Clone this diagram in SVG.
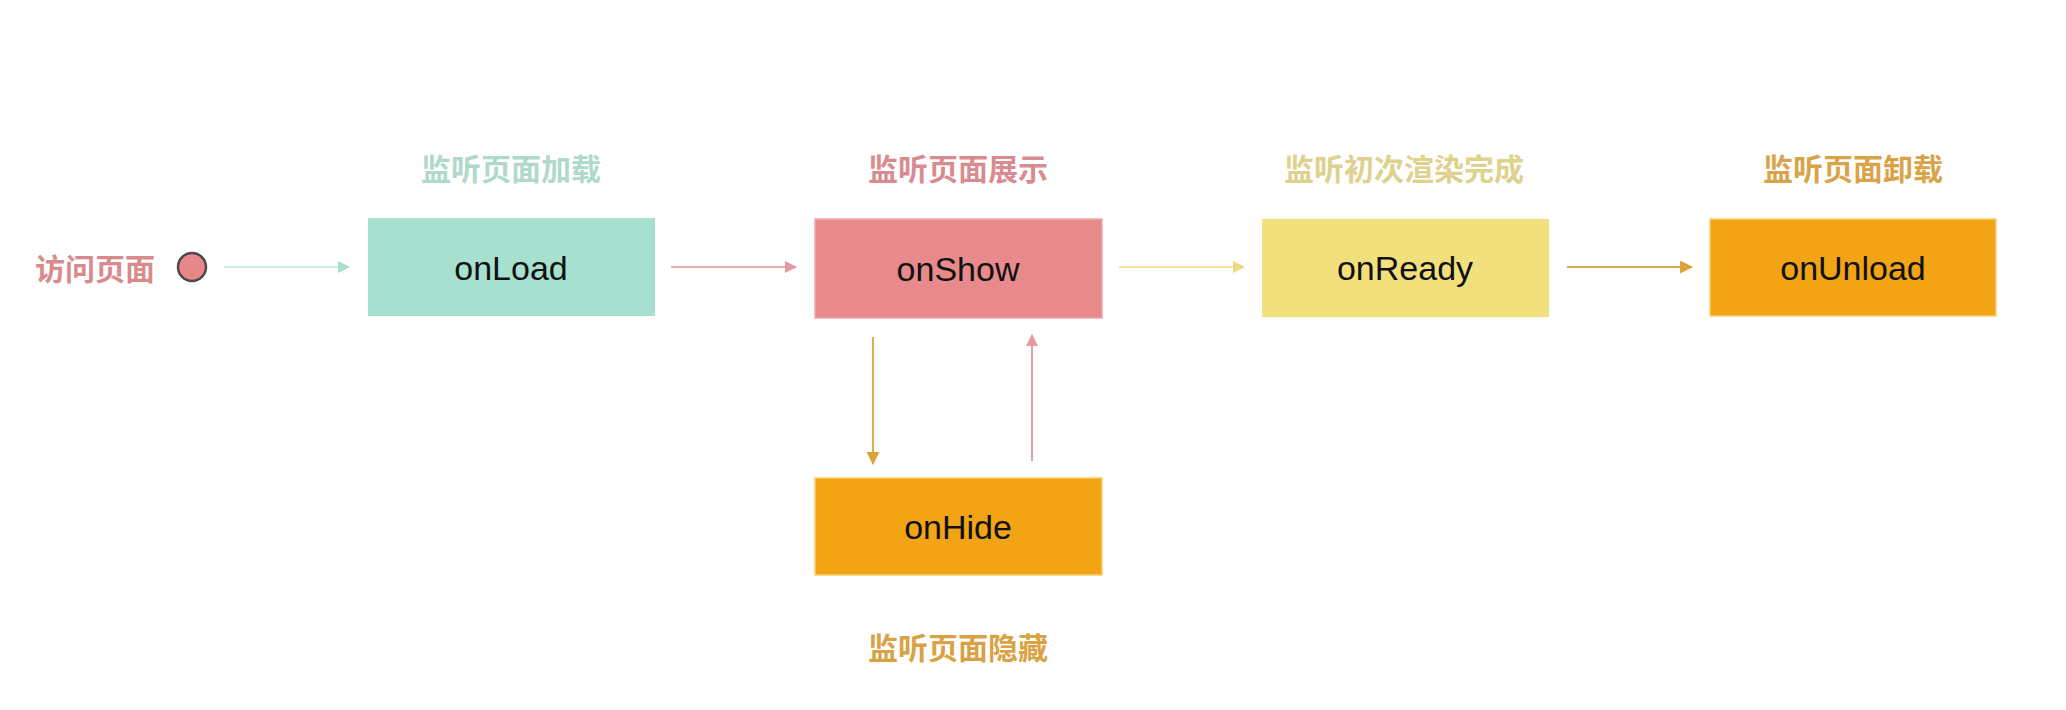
<svg xmlns="http://www.w3.org/2000/svg" width="2066" height="710" viewBox="0 0 2066 710">
<style>
.name{font-family:"Liberation Sans",Arial,sans-serif;font-size:34px;fill:#111;text-anchor:middle;dominant-baseline:central}
.lbl{font-family:"Noto Sans CJK SC","Noto Sans",sans-serif;font-size:30px;text-anchor:middle;dominant-baseline:central;font-weight:bold}
.conn line{stroke-width:2}
</style>
<defs>
<marker id="mTeal" viewBox="0 0 12 12" refX="11" refY="6" markerWidth="12" markerHeight="12" markerUnits="userSpaceOnUse" orient="auto"><path d="M0,0 L12,6 L0,12 Z" fill="#a9dfcf"/></marker>
<marker id="mPink" viewBox="0 0 12 12" refX="11" refY="6" markerWidth="12" markerHeight="12" markerUnits="userSpaceOnUse" orient="auto"><path d="M0,0 L12,6 L0,12 Z" fill="#e39aa0"/></marker>
<marker id="mYellow" viewBox="0 0 12 12" refX="11" refY="6" markerWidth="12" markerHeight="12" markerUnits="userSpaceOnUse" orient="auto"><path d="M0,0 L12,6 L0,12 Z" fill="#eedb7e"/></marker>
<marker id="mGold" viewBox="0 0 12 12" refX="11" refY="6" markerWidth="13" markerHeight="13" markerUnits="userSpaceOnUse" orient="auto"><path d="M0,0 L12,6 L0,12 Z" fill="#dba336"/></marker>
</defs>
<rect width="2066" height="710" fill="#ffffff"/>

<g id="start">
<text class="lbl" x="95" y="267" fill="#d98a8c">访问页面</text>
<circle cx="192" cy="267" r="14" fill="#e8878a" stroke="#4a4a4a" stroke-width="2.5"/>
</g>

<g id="onLoad">
<text class="lbl" x="511" y="167" fill="#afd9cb">监听页面加载</text>
<rect x="368" y="218" width="287" height="98" fill="#a7e0cf"/>
<text class="name" x="511" y="268">onLoad</text>
</g>

<g id="onShow">
<text class="lbl" x="958" y="167" fill="#d98c90">监听页面展示</text>
<rect x="815" y="219" width="287" height="99" fill="#e8898b" stroke="#f0a8aa" stroke-width="1.5"/>
<text class="name" x="958" y="269">onShow</text>
</g>

<g id="onReady">
<text class="lbl" x="1404" y="167" fill="#ddd28e">监听初次渲染完成</text>
<rect x="1262" y="219" width="287" height="98" fill="#f1e07b"/>
<text class="name" x="1405" y="268">onReady</text>
</g>

<g id="onUnload">
<text class="lbl" x="1853" y="167" fill="#d9a448">监听页面卸载</text>
<rect x="1710" y="219" width="286" height="97" fill="#f2a414" stroke="#f6d070" stroke-width="1.5"/>
<text class="name" x="1853" y="268">onUnload</text>
</g>

<g id="onHide">
<text class="lbl" x="958" y="646" fill="#d9a245">监听页面隐藏</text>
<rect x="815" y="478" width="287" height="97" fill="#f2a414" stroke="#f6d070" stroke-width="1.5"/>
<text class="name" x="958" y="527">onHide</text>
</g>

<g id="connectors" class="conn">
<line x1="224" y1="267" x2="349" y2="267" stroke="#cdebe3" marker-end="url(#mTeal)"/>
<line x1="671" y1="267" x2="796" y2="267" stroke="#e8b0b5" marker-end="url(#mPink)"/>
<line x1="1119" y1="267" x2="1244" y2="267" stroke="#f2e6a6" stroke-width="2.5" marker-end="url(#mYellow)"/>
<line x1="1567" y1="267" x2="1692" y2="267" stroke="#d9ab4a" stroke-width="3" marker-end="url(#mGold)"/>
<line x1="873" y1="337" x2="873" y2="464" stroke="#dcae5a" marker-end="url(#mGold)"/>
<line x1="1032" y1="461" x2="1032" y2="335" stroke="#e0a0a5" marker-end="url(#mPink)"/>
</g>
</svg>
